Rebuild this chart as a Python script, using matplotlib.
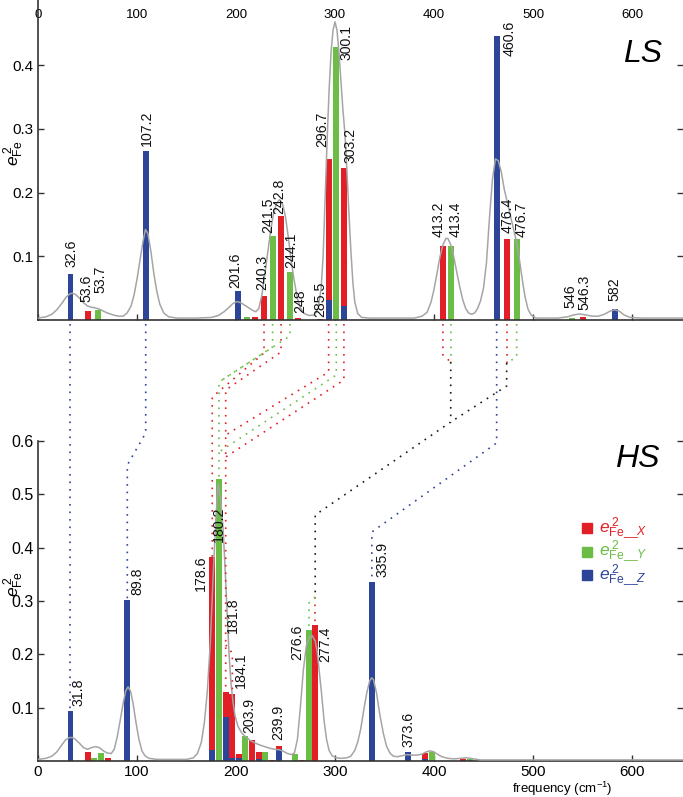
import matplotlib
matplotlib.use('Agg')
import matplotlib.pyplot as plt
from matplotlib.transforms import blended_transform_factory
from matplotlib.lines import Line2D
from matplotlib.patches import Rectangle

plt.rcParams['font.family'] = ['Liberation Sans', 'DejaVu Sans']
plt.rcParams['mathtext.fontset'] = 'custom'
plt.rcParams['mathtext.rm'] = 'Liberation Sans'
plt.rcParams['mathtext.it'] = 'Liberation Sans:italic'
plt.rcParams['mathtext.bf'] = 'Liberation Sans:bold'

RED, GREEN, BLUE = '#e21f26', '#6bbd46', '#2c4599'
GREY = '#a5a5a5'
AXC = '#333333'

# ---- LS spectrum: bar positions, stacked components (blue / red / green), labels
ls_pos = [32.8, 50.5, 60.6, 108.8, 201.7, 210.8, 219.5, 228.3, 237.0, 245.5, 254.5, 263.0,
          285.0, 293.6, 301.3, 309.0, 409.0, 416.9, 463.3, 473.4, 483.5, 539.7, 550.2, 582.5]
ls_blue = [0.072, 0, 0, 0.266, 0.046, 0, 0, 0, 0, 0, 0, 0,
           0, 0.031, 0, 0.022, 0, 0, 0.446, 0, 0, 0, 0, 0.018]
ls_red = [0, 0.0146, 0, 0, 0, 0, 0.005, 0.037, 0, 0.163, 0, 0.003,
          0.0015, 0.222, 0, 0.217, 0.116, 0, 0, 0.127, 0, 0, 0.004, 0]
ls_green = [0, 0, 0.015, 0, 0, 0.004, 0, 0, 0.132, 0, 0.076, 0,
            0, 0, 0.428, 0, 0, 0.116, 0, 0, 0.127, 0.003, 0, 0]
ls_text = ['32.6', '53.6', '53.7', '107.2', '201.6', '', '', '240.3', '241.5', '242.8', '244.1', '248',
           '285.5', '296.7', '300.1', '303.2', '413.2', '413.4', '460.6', '476.4', '476.7', '546', '546.3', '582']

# broadened LS spectrum (grey line)
ls_curve_x = [0, 8, 14, 19, 24, 28, 32, 35, 38, 42, 46, 50, 54, 58, 62, 66, 70, 74, 78, 82, 86, 90, 94, 97,
              100, 103, 106, 108.5, 111, 114, 117, 120, 123, 127, 132, 140, 160, 175, 182, 188, 193, 197,
              201, 205, 209, 213, 217, 220, 223, 226, 229, 232, 235, 238, 241, 244, 247, 250, 253, 256,
              259, 262, 265, 269, 274, 279, 283, 286, 288, 290, 292, 294, 296, 298, 300, 302, 304, 306,
              308, 310, 312, 314, 316, 318, 320, 323, 327, 335, 380, 388, 393, 397, 400, 403, 406, 409,
              412, 414, 417, 420, 423, 426, 429, 432, 435, 438, 441, 444, 447, 450, 453, 456, 459, 462,
              465, 468, 471, 474, 477, 480, 483, 486, 489, 492, 495, 498, 503, 525, 535, 541, 547, 553,
              560, 566, 572, 578, 582.5, 587, 592, 598, 610, 652]
ls_curve_y = [0.003, 0.005, 0.009, 0.016, 0.026, 0.035, 0.041, 0.042, 0.040, 0.034, 0.027, 0.022, 0.020,
              0.019, 0.017, 0.014, 0.011, 0.009, 0.007, 0.006, 0.006, 0.011, 0.022, 0.039,
              0.064, 0.093, 0.123, 0.142, 0.136, 0.108, 0.073, 0.045, 0.025, 0.011, 0.005, 0.003, 0.003,
              0.004, 0.007, 0.013, 0.020, 0.026,
              0.029, 0.027, 0.023, 0.019, 0.015, 0.013, 0.018, 0.038, 0.070, 0.105, 0.140, 0.168, 0.183,
              0.189, 0.182, 0.162, 0.128, 0.090,
              0.060, 0.034, 0.019, 0.010, 0.007, 0.008, 0.018, 0.050, 0.100, 0.190, 0.280, 0.360, 0.420,
              0.455, 0.468, 0.455, 0.420, 0.375,
              0.330, 0.293, 0.235, 0.170, 0.110, 0.060, 0.028, 0.010, 0.004, 0.003, 0.003, 0.006, 0.012,
              0.028, 0.048, 0.073, 0.099, 0.118,
              0.128, 0.128, 0.118, 0.099, 0.075, 0.052, 0.032, 0.018, 0.011, 0.009, 0.011, 0.018, 0.030,
              0.050, 0.090, 0.160, 0.220, 0.253,
              0.250, 0.232, 0.205, 0.185, 0.165, 0.145, 0.125, 0.098, 0.065, 0.036, 0.017, 0.008, 0.003,
              0.003, 0.005, 0.008, 0.0095, 0.008,
              0.006, 0.006, 0.009, 0.014, 0.016, 0.014, 0.008, 0.004, 0.003, 0.003]

# ---- HS spectrum
hs_pos = [32.8, 50.5, 56.6, 63.3, 70.4, 90.2, 176.0, 182.8, 189.6, 196.3, 202.7, 209.4, 216.0, 222.9,
          229.6, 236.4, 243.0, 259.9, 266.7, 273.7, 280.0, 337.2, 373.7, 391.0, 398.0, 429.0, 436.0]
hs_blue = [0.093, 0, 0, 0, 0, 0.302, 0.020, 0, 0.083, 0.005, 0.006, 0, 0, 0.003,
           0, 0, 0.022, 0, 0, 0, 0, 0.336, 0.016, 0.003, 0, 0, 0]
hs_red = [0, 0.017, 0, 0, 0.006, 0, 0.363, 0, 0.047, 0.121, 0.008, 0, 0.039, 0.013,
          0, 0.002, 0.006, 0, 0.002, 0, 0.255, 0, 0, 0.012, 0, 0.004, 0]
hs_green = [0, 0, 0.005, 0.015, 0, 0, 0, 0.528, 0, 0, 0, 0.046, 0, 0,
            0.017, 0, 0, 0.0125, 0, 0.245, 0, 0, 0, 0, 0.016, 0, 0.003]
hs_text = ['31.8', '', '', '', '', '89.8', '178.6', '180.2', '181.8', '184.1', '', '203.9', '', '',
           '', '', '239.9', '', '', '276.6', '277.4', '335.9', '373.6', '', '', '', '']

hs_curve_x = [0, 8, 14, 19, 24, 28, 32, 35, 38, 42, 46, 50, 54, 58, 62, 66, 70, 74, 77, 80, 83, 86, 88.5,
              91, 93.5, 96, 99, 102, 105, 108, 112, 120, 150, 157, 161, 165, 168, 171, 174, 177, 179.5,
              182, 184.5, 187, 189, 191, 193, 195, 197, 199, 202, 206, 210, 214, 219, 224, 229, 234, 239,
              244, 248, 252, 256, 259, 262, 265, 268, 271, 274, 277, 280, 282, 284, 286.5, 289, 291.5,
              294, 297, 301, 306, 312, 316, 320, 323, 326, 329, 332, 335, 337, 339, 342, 345, 348.8, 352,
              355.6, 359, 363, 368, 373, 378, 383, 388, 392, 396, 400, 404, 408, 414, 420, 427, 433, 440,
              447, 652]
hs_curve_y = [0.003, 0.005, 0.009, 0.017, 0.030, 0.040, 0.044, 0.044, 0.040, 0.033, 0.025, 0.022, 0.025,
              0.027, 0.025, 0.019, 0.015, 0.014, 0.022, 0.045, 0.076, 0.108, 0.131,
              0.139, 0.131, 0.108, 0.072, 0.040, 0.019, 0.010, 0.005, 0.003, 0.003, 0.006, 0.014, 0.035,
              0.071, 0.130, 0.220, 0.350, 0.450,
              0.520, 0.490, 0.435, 0.360, 0.280, 0.200, 0.145, 0.110, 0.085, 0.065, 0.052, 0.045, 0.039,
              0.034, 0.030, 0.027, 0.024, 0.022,
              0.021, 0.018, 0.014, 0.012, 0.015, 0.040, 0.100, 0.170, 0.215, 0.232, 0.235, 0.225, 0.205,
              0.170, 0.125, 0.075, 0.040,
              0.020, 0.010, 0.006, 0.005, 0.006, 0.009, 0.020, 0.036, 0.060, 0.095, 0.127, 0.150, 0.156,
              0.152, 0.127, 0.090, 0.052, 0.028,
              0.0145, 0.009, 0.008, 0.010, 0.012, 0.011, 0.011, 0.013, 0.017, 0.019, 0.017, 0.012, 0.008,
              0.005, 0.004, 0.005, 0.006, 0.004,
              0.002, 0.002]

xticks = [0, 100, 200, 300, 400, 500, 600]
ls_yticks = [0.1, 0.2, 0.3, 0.4]
hs_yticks = [0.1, 0.2, 0.3, 0.4, 0.5, 0.6]

# label placement relative to the bar top: (dx px, dy px, vertical anchor)
ls_label_off = {'32.6': (1, 7, 'bottom'), '53.6': (-2, 9, 'bottom'), '53.7': (2, 17, 'bottom'),
                '107.2': (1, 5, 'bottom'), '201.6': (-2, 3, 'bottom'), '240.3': (-2, 6, 'bottom'),
                '241.5': (-4.5, 3, 'bottom'), '242.8': (-1.5, 2, 'bottom'), '244.1': (1.5, 4, 'bottom'),
                '248': (1.5, 5, 'bottom'), '285.5': (0, 2, 'bottom'), '296.7': (-6.5, 12, 'bottom'),
                '300.1': (10, 22.5, 'top'), '303.2': (7, 4.5, 'bottom'), '413.2': (-4, 9, 'bottom'),
                '413.4': (5, 9, 'bottom'), '460.6': (12.5, 15.5, 'top'), '476.4': (0.5, 6, 'bottom'),
                '476.7': (5, 2, 'bottom'), '546': (-2, 10, 'bottom'), '546.3': (2, 7, 'bottom'),
                '582': (0, 8, 'bottom')}
hs_label_off = {'31.8': (8.5, 5.5, 'bottom'), '89.8': (10, 5, 'bottom'), '178.6': (-11.5, 1.5, 'top'),
                '180.2': (0, -27.5, 'top'), '181.8': (7, 58.5, 'bottom'), '184.1': (8.5, 6, 'bottom'),
                '203.9': (3.5, 3.5, 'bottom'), '239.9': (0, 6, 'bottom'), '276.6': (-11.5, 5.5, 'top'),
                '277.4': (10.5, -2, 'top'), '335.9': (11, 5, 'bottom'), '373.6': (1, 5, 'bottom')}

W, H = 683, 797
fig = plt.figure(figsize=(W / 100, H / 100), dpi=100)
XMAX = 645 / 0.99

ax1 = fig.add_axes([38 / W, 1 - 320 / H, 645 / W, 320 / H])
ax2 = fig.add_axes([38 / W, 1 - 761 / H, 645 / W, 320 / H])


def draw_panel(ax, pos, blue, red, green, texts, offs, cx, cy):
    bot_r = [b for b in blue]
    bot_g = [b + r for b, r in zip(blue, red)]
    ax.bar(pos, blue, width=6, color=BLUE, linewidth=0, zorder=2)
    ax.bar(pos, red, width=6, bottom=bot_r, color=RED, linewidth=0, zorder=2)
    ax.bar(pos, green, width=6, bottom=bot_g, color=GREEN, linewidth=0, zorder=2)
    ax.plot(cx, cy, color=GREY, lw=1.1, zorder=3)
    for x, b, r, g, t in zip(pos, blue, red, green, texts):
        if not t:
            continue
        dx, dy, va = offs[t]
        ax.annotate(t, xy=(x, b + r + g), xytext=(dx, dy), textcoords='offset pixels',
                    rotation=90, ha='center', va=va, fontsize=10.2, color='#111111', zorder=4)
    ax.set_xlim(0, XMAX)
    ax.set_xticks(xticks)
    for s in ['top', 'right']:
        ax.spines[s].set_visible(False)
    for s in ['left', 'bottom']:
        ax.spines[s].set_color(AXC)
        ax.spines[s].set_linewidth(1.2)
    ax.tick_params(direction='in', length=4, width=1, color=AXC, right=True)


draw_panel(ax1, ls_pos, ls_blue, ls_red, ls_green, ls_text, ls_label_off, ls_curve_x, ls_curve_y)
ax1.set_ylim(0, 320 / 637)
ax1.set_yticks(ls_yticks)
ax1.set_yticklabels([str(v) for v in ls_yticks], fontsize=11)
ax1.tick_params(axis='x', top=False, labeltop=True, labelbottom=False, pad=-15, labelsize=9.5)
ax1.tick_params(axis='y', pad=3)

draw_panel(ax2, hs_pos, hs_blue, hs_red, hs_green, hs_text, hs_label_off, hs_curve_x, hs_curve_y)
ax2.set_ylim(0, 0.6)
ax2.set_yticks(hs_yticks)
ax2.set_yticklabels([str(v) for v in hs_yticks], fontsize=11.5)
ax2.tick_params(axis='x', labelsize=11, pad=3)
ax2.tick_params(axis='y', pad=3)

ylab = r'$e_{\mathrm{Fe}}^{\,2}$'
fig.text(14 / W, 1 - 153 / H, ylab, rotation=90, ha='center', va='center', fontsize=12.5)
fig.text(14 / W, 1 - 584 / H, ylab, rotation=90, ha='center', va='center', fontsize=12.5)
fig.text(662 / W, 1 - 54 / H, 'LS', ha='right', va='center', fontsize=23, style='italic')
fig.text(660 / W, 1 - 459 / H, 'HS', ha='right', va='center', fontsize=23, style='italic')
fig.text(562 / W, 1 - 789 / H, r'frequency (cm$^{-1}$)', ha='center', va='center', fontsize=9.5)

# legend
leg_cols = [RED, GREEN, BLUE]
leg_names = ['X', 'Y', 'Z']
for i, (c, n) in enumerate(zip(leg_cols, leg_names)):
    yc = 528 + 23.5 * i
    fig.patches.append(Rectangle((582 / W, 1 - (yc + 5) / H), 10 / W, 10 / H,
                                 transform=fig.transFigure, color=c, figure=fig))
    fig.text(599 / W, 1 - yc / H, r'$e_{\mathrm{Fe}}^{\,2}{}_{\_\_%s}$' % n, color=c,
             ha='left', va='center', fontsize=12.5)

# dotted correlation lines between the LS and HS modes
LS_BASE = 324
links = [
    (BLUE, [('ls', '32.6', LS_BASE), ('hs', '31.8', 'top')]),
    (BLUE, [('ls', '107.2', LS_BASE), ('ls', '107.2', 433), ('hs', '89.8', 465), ('hs', '89.8', 'top')]),
    (RED, [('ls', '240.3', LS_BASE), ('ls', '240.3', 353), ('hs', '178.6', 397), ('hs', '178.6', 'top')]),
    (GREEN, [('ls', '241.5', LS_BASE), ('ls', '241.5', 347), ('hs', '180.2', 382), ('hs', '180.2', 'top')]),
    (RED, [('ls', '242.8', LS_BASE), ('ls', '242.8', 352), ('hs', '181.8', 390), ('hs', '181.8', 'top')]),
    (GREEN, [('ls', '244.1', LS_BASE), ('ls', '244.1', 336), ('hs', '180.2', 382)]),
    (RED, [('ls', '296.7', LS_BASE), ('ls', '296.7', 372), ('hs', '181.8', 435)]),
    (GREEN, [('ls', '300.1', LS_BASE), ('ls', '300.1', 375), ('hs', '180.2', 452)]),
    (RED, [('ls', '303.2', LS_BASE), ('ls', '303.2', 380), ('hs', '181.8', 457)]),
    (RED, [('hs', '181.8', 645), ('hs', '184.1', 653), ('hs', '184.1', 'top')]),
    (RED, [('ls', '413.2', LS_BASE), ('ls', '413.2', 355), ('ls', '413.4', 362)]),
    (GREEN, [('ls', '413.4', LS_BASE), ('ls', '413.4', 362)]),
    ('#1a1a1a', [('ls', '413.4', 362), ('ls', '413.4', 422), ('hs', '277.4', 515), ('hs', '277.4', 597)]),
    (RED, [('ls', '476.4', LS_BASE), ('ls', '476.4', 363)]),
    (GREEN, [('ls', '476.7', LS_BASE), ('ls', '476.7', 357), ('ls', '476.4', 363)]),
    ('#1a1a1a', [('ls', '476.4', 363), ('ls', '476.4', 386), ('ls', '413.4', 422)]),
    (RED, [('hs', '277.4', 597), ('hs', '277.4', 'top')]),
    (GREEN, [('hs', '277.4', 597), ('hs', '276.6', 603), ('hs', '276.6', 'top')]),
    (BLUE, [('ls', '460.6', LS_BASE), ('ls', '460.6', 443), ('hs', '335.9', 532), ('hs', '335.9', 'top')]),
]

trans = blended_transform_factory(ax1.transData, fig.transFigure)


def xref(which, lab):
    if which == 'ls':
        return ls_pos[ls_text.index(lab)]
    return hs_pos[hs_text.index(lab)]


def yref(which, lab, y):
    if y == 'top':
        i = hs_text.index(lab)
        top = hs_blue[i] + hs_red[i] + hs_green[i]
        return ax2.transData.transform((0, top))[1] / fig.bbox.height
    return 1 - y / H


for c, pts in links:
    xs = [xref(w, l) for w, l, y in pts]
    ys = [yref(w, l, y) for w, l, y in pts]
    fig.add_artist(Line2D(xs, ys, transform=trans, color=c, lw=1.2,
                          linestyle=(0, (1, 3.5)), zorder=5))

fig.savefig('out.png', dpi=100)
